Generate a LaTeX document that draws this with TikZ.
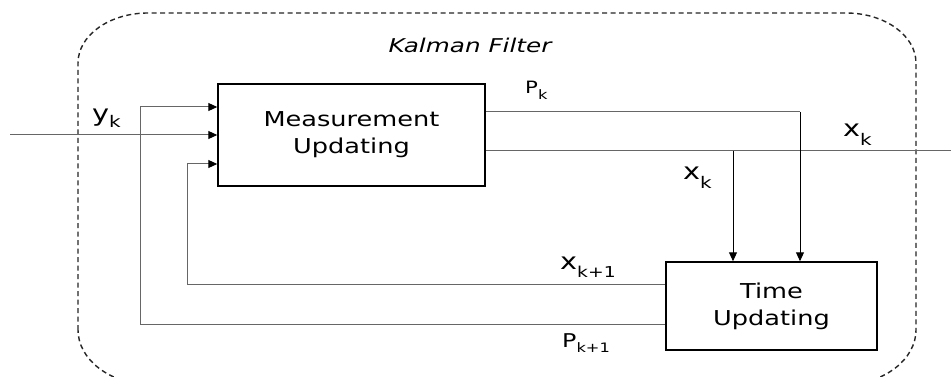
\documentclass[tikz,border=0pt]{standalone}
\usepackage{fontspec}
\setmainfont{DejaVu Sans}
\usepackage{graphicx}
\usetikzlibrary{arrows.meta}
\newcommand{\sx}[1]{\scalebox{1.25}[1]{#1}}
\newcommand{\sublab}[5]{\sx{\fontsize{#1}{#1}\selectfont #2\raisebox{-#5pt}{\fontsize{#3}{#3}\selectfont #4}}}
\begin{document}
\begin{tikzpicture}[x=1pt,y=-1pt,
  box/.style={draw=black,line width=1.5pt,inner sep=0pt,align=center,font=\fontsize{20.5}{27}\selectfont},
  wire/.style={draw=black!60,line width=1pt},
  arr/.style={wire,-{Triangle[length=9pt,width=8pt,color=black]}},
  lbl/.style={inner sep=0pt,anchor=base west},
  frame/.style={draw=black!85,line width=1.4pt,dash pattern=on 5pt off 3.5pt}]
\useasboundingbox (0,0) rectangle (951,377);
\fill[white] (0,0) rectangle (951,377);
\draw[frame] (78,330) -- (78,63) .. controls (78,35.4) and (109.4,13) .. (148,13) -- (846,13) .. controls (884.6,13) and (916,35.4) .. (916,63) -- (916,330) .. controls (916,359) and (884.6,384) .. (846,384) -- (148,384) .. controls (109.4,384) and (78,359) .. (78,330) -- cycle;
\node[inner sep=0pt,anchor=base,font=\fontsize{19}{19}\selectfont\itshape] (title) at (470,53) {\scalebox{1.3}[1]{Kalman Filter}};
\node[box,minimum width=267pt,minimum height=102pt] (mu) at (351.5,135) {\sx{Measurement}\\\sx{Updating}};
\node[box,minimum width=211pt,minimum height=88pt] (tu) at (771.5,306) {\sx{Time}\\\sx{Updating}};
\coordinate (in) at (10,135);
\coordinate (out) at (951,151);
\coordinate (brx) at (733,151);
\coordinate (pkc) at (800,112);
\coordinate (xfb) at (187,284);
\coordinate (pfb) at (140,324);
\coordinate (m1) at (0,107);
\coordinate (m3) at (0,164);
\draw[arr] (in) -- (mu.west);
\draw[wire] (mu.east |- out) -- (out);
\draw[arr,draw=black] (brx) -- (brx |- tu.north);
\draw[wire] (mu.east |- pkc) -- (pkc);
\draw[arr,draw=black] (pkc) -- (pkc |- tu.north);
\draw[arr] (tu.west |- xfb) -- (xfb) -- (xfb |- m3) -- (mu.west |- m3);
\draw[arr] (tu.west |- pfb) -- (pfb) -- (pfb |- m1) -- (mu.west |- m1);
\node[lbl] (ylab) at (92,122) {\sublab{23}{y}{16}{k}{6}};
\node[lbl] (pklab) at (525,94) {\sublab{17}{P}{13}{k}{6}};
\node[lbl] (xklab1) at (843,137) {\sublab{23}{x}{16}{k}{9}};
\node[lbl] (xklab2) at (683,180) {\sublab{23}{x}{16}{k}{9}};
\node[lbl] (xk1lab) at (560,269) {\sublab{23}{x}{15}{k+1}{8}};
\node[lbl] (pk1lab) at (562,347) {\sublab{19}{P}{13}{k+1}{5}};
\end{tikzpicture}
\end{document}
